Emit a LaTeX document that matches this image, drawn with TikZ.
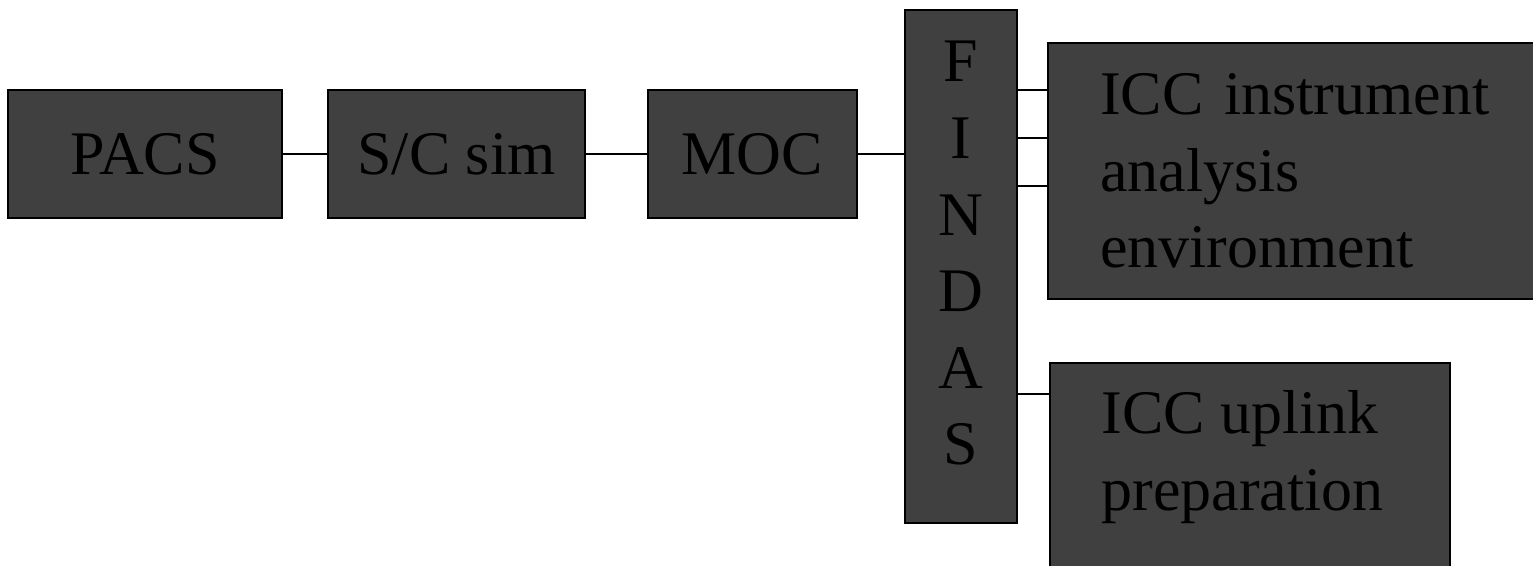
\documentclass[tikz,border=0pt]{standalone}
\usepackage{fontspec}
\setmainfont{Liberation Serif}
\usepackage{tikz}

\definecolor{boxgray}{RGB}{64,64,64}

\begin{document}
\begin{tikzpicture}[x=0.5pt,y=-0.5pt,
  blockbox/.style={draw=black,line width=1pt,fill=boxgray,inner sep=0pt,
    font=\fontsize{31pt}{38.3pt}\selectfont},
  blocktext/.style={inner sep=0pt,font=\fontsize{31pt}{38.3pt}\selectfont},
  link/.style={line width=0.75pt}]

\clip (0,0) rectangle (1533,566);

% chain along the top
\node[blockbox,minimum width=137pt,minimum height=64pt] (pacs) at (145,154) {PACS};
\node[blockbox,minimum width=128.5pt,minimum height=64pt] (scsim) at (456.5,154) {S/C sim};
\node[blockbox,minimum width=104.5pt,minimum height=64pt] (moc) at (752.5,154) {MOC};

% tall archive box
\node[blockbox,minimum width=56pt,minimum height=256.5pt] (findas) at (961,266.5) {};
\node[blocktext,align=center,anchor=north] (findastxt) at (961,41) {F\\I\\N\\D\\A\\S};

% ICC side
\node[blockbox,anchor=north west,minimum width=260pt,minimum height=128pt,
  text width=208pt,inner xsep=26pt,align=left] (instr) at (1047,42)
  {ICC instrument\\analysis\\environment};
\node[blockbox,anchor=north west,minimum width=200pt,minimum height=129pt] (uplink) at (1049,362) {};
\node[blocktext,align=left,anchor=north west] (uplinktxt) at (1101,390) {ICC uplink\\preparation};

\draw[link] (pacs) -- (scsim);
\draw[link] (scsim) -- (moc);
\draw[link] (moc.east) -- (moc.east -| findas.west);
\foreach \y in {90,138,186}
  \draw[link] (findas.east |- 0,\y) -- (instr.west |- 0,\y);
\draw[link] (findas.east |- 0,394) -- (uplink.west |- 0,394);

\end{tikzpicture}
\end{document}
